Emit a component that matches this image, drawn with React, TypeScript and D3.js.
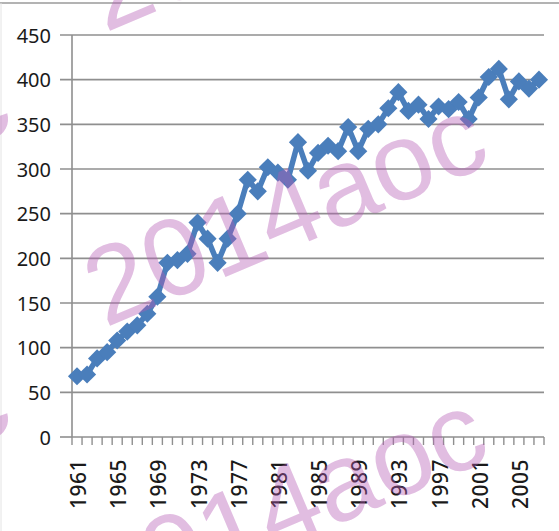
import React from "react";
import * as d3 from "d3";

const years: number[] = [
  1961, 1962, 1963, 1964, 1965, 1966, 1967, 1968, 1969, 1970,
  1971, 1972, 1973, 1974, 1975, 1976, 1977, 1978, 1979, 1980,
  1981, 1982, 1983, 1984, 1985, 1986, 1987, 1988, 1989, 1990,
  1991, 1992, 1993, 1994, 1995, 1996, 1997, 1998, 1999, 2000,
  2001, 2002, 2003, 2004, 2005, 2006, 2007,
];
const values: number[] = [
  68, 70, 88, 95, 108, 118, 125, 138, 157, 195,
  198, 205, 240, 222, 195, 222, 250, 288, 275, 302,
  296, 288, 330, 298, 318, 326, 320, 347, 320, 345,
  350, 368, 386, 365, 372, 356, 370, 367, 375, 356,
  380, 403, 412, 378, 398, 390, 400,
];
const yTicks: number[] = [0, 50, 100, 150, 200, 250, 300, 350, 400, 450];
const xTickLabels: number[] = [1961, 1965, 1969, 1973, 1977, 1981, 1985, 1989, 1993, 1997, 2001, 2005];
const watermarkText = "2014aoc";
const watermarkOffsets: [number, number][] = [
  [0, 0], [0, -295], [0, 295], [-477, -35], [-477, 265], [-477, -330],
];

const W = 559, H = 531;
const left = 72, right = 544, top = 35, bottom = 437;

export default function App() {
  const x = d3.scaleBand<number>().domain(years).range([left, right]).padding(0);
  const y = d3.scaleLinear().domain([0, 450]).range([bottom, top]);
  const cx = (yr: number) => (x(yr) as number) + x.bandwidth() / 2;
  const line = d3.line<number>().x((_, i) => cx(years[i])).y((v) => y(v));
  const diamond = d3.symbol().type(d3.symbolSquare).size(165)()!;
  const boundaries = years.map((yr) => x(yr) as number).concat([right]);
  const blue = "#4a7ebb";
  const grid = "#8f8f8f";
  const font = "'Noto Sans', 'DejaVu Sans', sans-serif";

  return (
    <svg width={W} height={H} style={{ position: "absolute", left: 0, top: 0, background: "#fff" }}>
      <rect x={0} y={0} width={W} height={H} fill="#fff" />
      <line x1={0} x2={W} y1={3} y2={3} stroke="#9a9a9a" strokeWidth={1.5} />
      <line x1={1} x2={1} y1={3} y2={H} stroke="#e4e4e4" strokeWidth={1} />
      {yTicks.map((t) => (
        <g key={t}>
          <line x1={60} x2={t === 0 ? left : right} y1={y(t)} y2={y(t)} stroke={grid} strokeWidth={1.6} />
          <text x={51} y={y(t)} textAnchor="end" dominantBaseline="central" fontFamily={font} fontSize={20} fill="#1a1a1a">{t}</text>
        </g>
      ))}
      <line x1={left} x2={left} y1={top} y2={bottom} stroke={grid} strokeWidth={1.6} />
      <line x1={left} x2={right} y1={bottom} y2={bottom} stroke={grid} strokeWidth={1.6} />
      {boundaries.map((bx, i) => (
        <line key={i} x1={bx} x2={bx} y1={bottom} y2={bottom + 8} stroke={grid} strokeWidth={1.4} />
      ))}
      {xTickLabels.map((yr) => (
        <text key={yr} transform={`translate(${cx(yr) + 1},459) rotate(-90)`} textAnchor="end" dominantBaseline="central" fontFamily={font} fontSize={21} fontWeight={500} letterSpacing={0.5} fill="#1a1a1a">{yr}</text>
      ))}
      <path d={line(values) || ""} fill="none" stroke={blue} strokeWidth={5.5} strokeLinejoin="round" />
      {values.map((v, i) => (
        <path key={i} d={diamond} transform={`translate(${cx(years[i])},${y(v)}) rotate(45)`} fill={blue} />
      ))}
      {watermarkOffsets.map(([dx, dy], i) => (
        <text key={i} transform={`translate(${105 + dx},${328 + dy}) rotate(-23)`} fontFamily="'Liberation Sans', Arial, sans-serif" fontSize={110} fill="rgb(180,90,180)" fillOpacity={0.4}>{watermarkText}</text>
      ))}
    </svg>
  );
}
